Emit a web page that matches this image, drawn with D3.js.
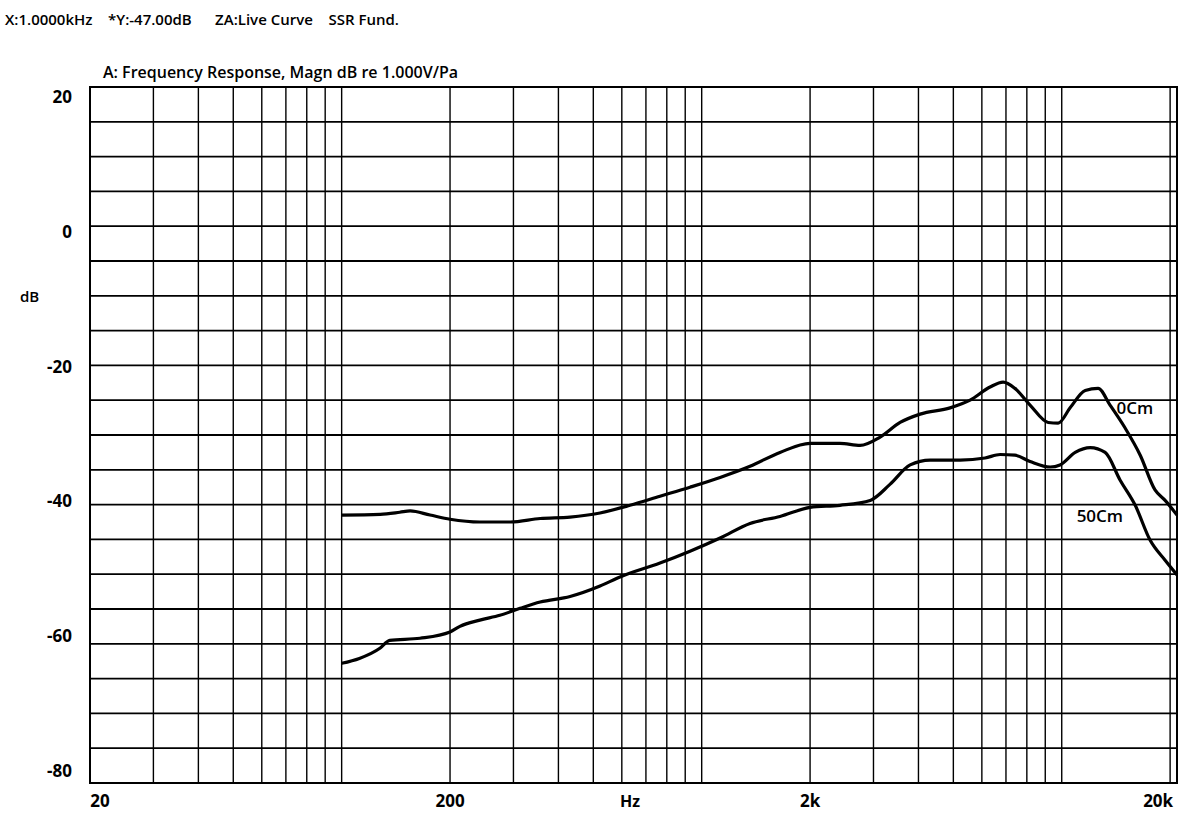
<!DOCTYPE html>
<html>
<head>
  <script src="https://d3js.org/d3.v7.min.js"></script>
  <style>
    body { margin: 0; background: #fff; }
    text { font-family: "Open Sans", Arial, sans-serif; font-weight: 600; fill: #000; }
  </style>
</head>
<body>
<div id="chart"></div>
<script>
  const freq0 = [100,128,145,155,176,200,242,294,356,431,522,632,766,928,1125,1362,1650,2000,2421,2754,3130,3557,4043,4897,5565,6325,6875,7415,8165,9170,9775,10550,11620,12620,13620,15000,16520,18160,19370,20900];
  const db0 = [-41.5,-41.4,-41.1,-40.9,-41.5,-42.1,-42.5,-42.5,-42.0,-41.8,-41.2,-40.1,-38.8,-37.5,-36.1,-34.5,-32.5,-31.2,-31.2,-31.5,-30.3,-28.2,-27.0,-26.1,-25.0,-23.1,-22.4,-23.3,-25.7,-28.2,-28.3,-26.1,-23.6,-23.3,-25.7,-29.0,-32.9,-37.9,-39.4,-41.5];
  const freq50 = [100,112,128,136,165,200,213,242,275,313,356,431,522,593,766,928,1125,1362,1650,2000,2421,2937,3333,3793,4310,5223,6125,6745,7415,8165,9290,9890,10900,12000,13200,14530,16000,17590,19370,20900];
  const db50 = [-62.8,-62.1,-60.6,-59.5,-59.2,-58.3,-57.5,-56.6,-55.9,-54.9,-54.0,-53.2,-51.7,-50.4,-48.4,-46.7,-44.8,-42.7,-41.7,-40.4,-40.1,-39.4,-37.1,-34.3,-33.6,-33.6,-33.3,-32.8,-32.9,-33.8,-34.6,-34.3,-32.5,-31.8,-32.5,-36.5,-40.1,-45.1,-48.0,-50.1];
  const yTicks = [20, 0, -20, -40, -60, -80];
  const xTickVals = [20, 200, 2000, 20000];
  const xTickText = ["20", "200", "2k", "20k"];

  const W = 1182, H = 813;
  const svg = d3.select("#chart").append("svg").attr("width", W).attr("height", H);

  const x = d3.scaleLog().domain([20, 20900]).range([90, 1177]);
  const y = d3.scaleLinear().domain([-80, 20]).range([783, 87]);
  const yLab = d3.scaleLinear().domain([20, -80]).range([97, 771]);

  // grid
  const vLines = [];
  [10, 100, 1000, 10000].forEach(d => { for (let k = 1; k <= 9; k++) { const f = d * k; if (f > 20 && f < 20900) vLines.push(f); } });
  svg.selectAll(".v").data(vLines).enter().append("line")
    .attr("x1", d => x(d)).attr("x2", d => x(d)).attr("y1", y(20)).attr("y2", y(-80))
    .attr("stroke", "#000").attr("stroke-width", 1.4);
  svg.selectAll(".h").data(d3.range(-75, 20, 5)).enter().append("line")
    .attr("x1", x(20)).attr("x2", x(20900)).attr("y1", d => y(d)).attr("y2", d => y(d))
    .attr("stroke", "#000").attr("stroke-width", 1.8);
  svg.append("rect").attr("x", x(20)).attr("y", y(20)).attr("width", x(20900) - x(20)).attr("height", y(-80) - y(20))
    .attr("fill", "none").attr("stroke", "#000").attr("stroke-width", 2);

  // curves
  const line = d3.line().x(d => x(d[0])).y(d => y(d[1])).curve(d3.curveMonotoneX);
  [[freq0, db0], [freq50, db50]].forEach(([f, v]) => {
    svg.append("path").datum(f.map((d, i) => [d, v[i]])).attr("d", line)
      .attr("fill", "none").attr("stroke", "#000").attr("stroke-width", 3.2);
  });

  // labels
  svg.selectAll(".yl").data(yTicks).enter().append("text")
    .attr("x", 72).attr("y", d => yLab(d)).attr("dy", "0.35em").attr("text-anchor", "end")
    .style("font-size", "17px").style("font-weight", 700).text(d => d);
  svg.selectAll(".xl").data(xTickVals).enter().append("text")
    .attr("x", (d, i) => x(d) + (i === 0 ? 10 : i === 3 ? -12 : 0)).attr("y", 807).attr("text-anchor", "middle")
    .style("font-size", "17px").style("font-weight", 700).text((d, i) => xTickText[i]);
  svg.append("text").attr("x", x(632)).attr("y", 807).attr("text-anchor", "middle").style("font-size", "16px").style("font-weight", 700).text("Hz");
  svg.append("text").attr("x", 20).attr("y", 302).style("font-size", "15px").text("dB");
  svg.append("text").attr("x", 5).attr("y", 25).style("font-size", "15px").attr("xml:space", "preserve")
    .text("X:1.0000kHz    *Y:-47.00dB      ZA:Live Curve    SSR Fund.");
  svg.append("text").attr("x", 103).attr("y", 78).style("font-size", "16px")
    .text("A: Frequency Response, Magn dB re 1.000V/Pa");
  svg.append("text").attr("x", x(14200)).attr("y", y(-27)).style("font-size", "17px").text("0Cm");
  svg.append("text").attr("x", x(11000)).attr("y", y(-42.5)).style("font-size", "17px").text("50Cm");
</script>
</body>
</html>
